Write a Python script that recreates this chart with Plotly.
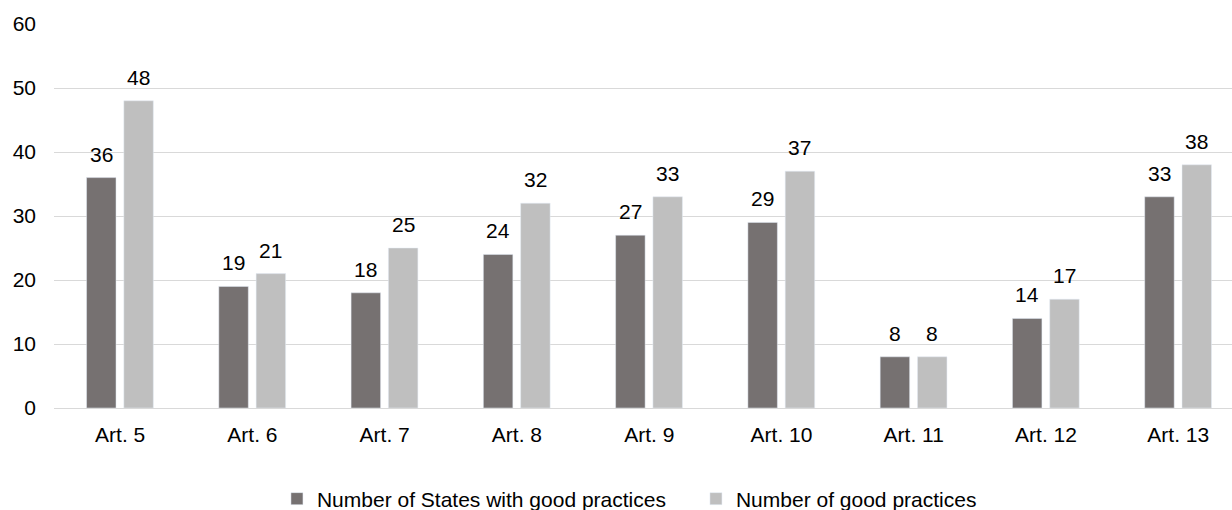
import plotly.graph_objects as go

categories = ["Art. 5", "Art. 6", "Art. 7", "Art. 8", "Art. 9", "Art. 10", "Art. 11", "Art. 12", "Art. 13"]
states = [36, 19, 18, 24, 27, 29, 8, 14, 33]
practices = [48, 21, 25, 32, 33, 37, 8, 17, 38]
series_names = ["Number of States with good practices", "Number of good practices"]
colors = ["#767171", "#BFBFBF"]

FONT = "Liberation Sans, Arial, sans-serif"
FS = 21

BAR_W = 0.223
OFF_A = -0.254
OFF_B = 0.028

fig = go.Figure()
fig.add_trace(go.Bar(x=categories, y=states, name=series_names[0], marker_color=colors[0],
                     width=BAR_W, offset=OFF_A, hoverinfo="x+y"))
fig.add_trace(go.Bar(x=categories, y=practices, name=series_names[1], marker_color=colors[1],
                     width=BAR_W, offset=OFF_B, hoverinfo="x+y"))

# data labels as annotations above bars
ann = []
ca = OFF_A + BAR_W / 2
cb = OFF_B + BAR_W / 2
for i, v in enumerate(states):
    ann.append(dict(x=i + ca, y=v, xref="x", yref="y", text=str(v), showarrow=False,
                    yanchor="bottom", yshift=10, font=dict(family=FONT, size=FS, color="#000")))
for i, v in enumerate(practices):
    ann.append(dict(x=i + cb, y=v, xref="x", yref="y", text=str(v), showarrow=False,
                    yanchor="bottom", yshift=10, font=dict(family=FONT, size=FS, color="#000")))

fig.update_layout(
    width=1232, height=510,
    margin=dict(l=54, r=0, t=24, b=102),
    paper_bgcolor="white", plot_bgcolor="white",
    font=dict(family=FONT, size=FS, color="#000"),
    barmode="overlay",
    annotations=ann,
    showlegend=True,
    legend=dict(orientation="h", xref="container", yref="container", x=0.2248, xanchor="left",
                y=0.0216, yanchor="middle", entrywidth=374, entrywidthmode="pixels",
                font=dict(family=FONT, size=FS, color="#000"), bgcolor="rgba(0,0,0,0)"),
)
fig.update_xaxes(type="category", range=[-0.5, 8.406], showgrid=False, showline=True,
                 linecolor="#D9D9D9", linewidth=1, ticks="", ticklabelstandoff=8,
                 tickfont=dict(family=FONT, size=FS, color="#000"))
fig.update_yaxes(range=[0, 60], dtick=10, showgrid=True, gridcolor="#D9D9D9", gridwidth=1,
                 zeroline=True, zerolinecolor="#D9D9D9", zerolinewidth=1, showline=False,
                 ticks="", ticklabelstandoff=17, tickfont=dict(family=FONT, size=FS, color="#000"))

fig.write_html("out.html")
